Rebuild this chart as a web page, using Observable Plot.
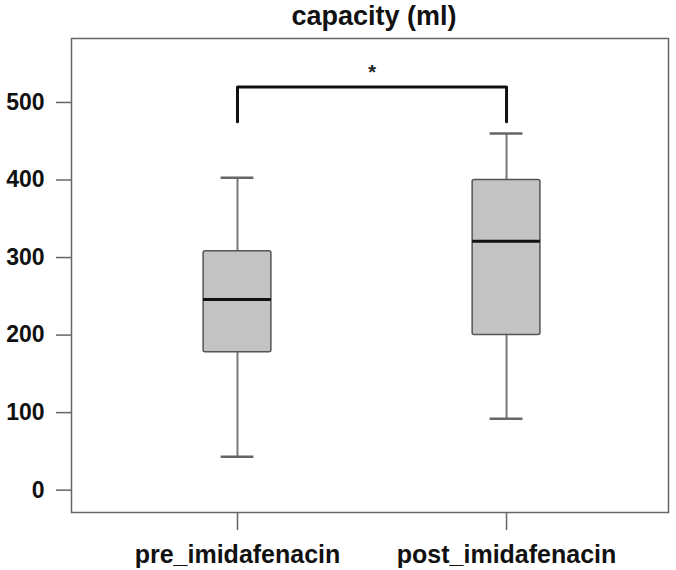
<!DOCTYPE html>
<html>
<head>
<meta charset="utf-8">
<script src="https://cdn.jsdelivr.net/npm/d3@7"></script>
<script src="https://cdn.jsdelivr.net/npm/@observablehq/plot@0.6"></script>
<style>
  html, body { margin: 0; padding: 0; background: #fff; }
  #chart svg { display: block; font-family: "Liberation Sans", Arial, Helvetica, sans-serif; }
  #chart svg text { font-weight: bold; }
</style>
</head>
<body>
<div id="chart"></div>
<script>
// ---- data ----
const title = "capacity (ml)";
const categories = ["pre_imidafenacin", "post_imidafenacin"];
const positions = [1, 2];
const whiskerLow = [43, 92];
const q1 = [178, 200];
const median = [246, 321];
const q3 = [308, 400];
const whiskerHigh = [403, 460];
const yTicks = [0, 100, 200, 300, 400, 500];
// significance bracket
const bracketX = [1, 1, 2, 2];
const bracketY = [475, 520, 520, 475];
const sigLabel = "*";
const sigX = 1.5;
const sigY = 539;

// ---- build table ----
const boxes = categories.map((c, i) => ({
  name: c, pos: positions[i],
  low: whiskerLow[i], q1: q1[i], med: median[i], q3: q3[i], high: whiskerHigh[i]
}));
const bracket = bracketX.map((x, i) => ({x, y: bracketY[i]}));

const boxHalf = 0.126;
const capHalf = 0.061;

const chart = Plot.plot({
  width: 676,
  height: 570,
  marginLeft: 71,
  marginRight: 8,
  marginTop: 38,
  marginBottom: 58,
  x: {domain: [0.383, 2.602], axis: null},
  y: {domain: [-28.8, 582.5], axis: null},
  marks: [
    // whiskers
    Plot.ruleX(boxes, {x: "pos", y1: "low", y2: "q1", stroke: "#777", strokeWidth: 2}),
    Plot.ruleX(boxes, {x: "pos", y1: "q3", y2: "high", stroke: "#777", strokeWidth: 2}),
    // caps
    Plot.ruleY(boxes, {y: "low", x1: d => d.pos - capHalf, x2: d => d.pos + capHalf, stroke: "#666", strokeWidth: 2.5}),
    Plot.ruleY(boxes, {y: "high", x1: d => d.pos - capHalf, x2: d => d.pos + capHalf, stroke: "#666", strokeWidth: 2.5}),
    // boxes
    Plot.rect(boxes, {x1: d => d.pos - boxHalf, x2: d => d.pos + boxHalf, y1: "q1", y2: "q3",
      fill: "#c3c3c3", stroke: "#555", strokeWidth: 1.5, rx: 2}),
    // medians
    Plot.ruleY(boxes, {y: "med", x1: d => d.pos - boxHalf, x2: d => d.pos + boxHalf, stroke: "#111", strokeWidth: 3}),
    // bracket
    Plot.line(bracket, {x: "x", y: "y", stroke: "#111", strokeWidth: 3, curve: "linear"}),
    Plot.text([sigLabel], {x: () => sigX, y: () => sigY, text: d => d, fontSize: 20, fill: "#222"}),
    // axes
    Plot.axisY({ticks: yTicks, tickSize: 15, tickPadding: 12, fontSize: 23, stroke: "#666", strokeWidth: 1.5, color: "#111", label: null}),
    Plot.axisX({ticks: positions, tickFormat: d => categories[positions.indexOf(d)], tickSize: 18, tickPadding: 15,
      fontSize: 25, stroke: "#666", strokeWidth: 1.5, color: "#111", label: null}),
    // frame
    Plot.frame({stroke: "#666", strokeWidth: 1.5}),
    // title
    Plot.text([title], {frameAnchor: "top", dx: 4, dy: -14, lineAnchor: "bottom", fontSize: 27, fill: "#111"})
  ]
});
document.getElementById("chart").appendChild(chart);
</script>
</body>
</html>
